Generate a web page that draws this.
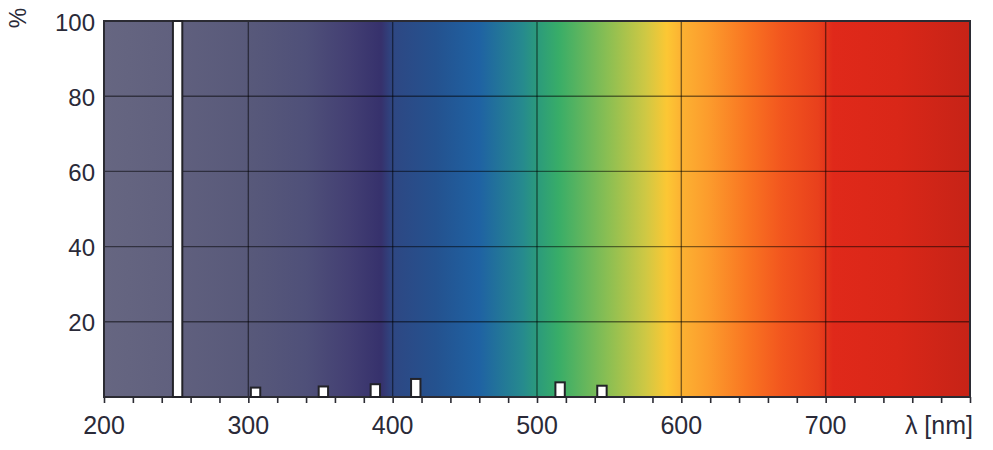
<!DOCTYPE html>
<html>
<head>
<meta charset="utf-8">
<script src="https://cdn.jsdelivr.net/npm/d3@7"></script>
<style>
  body { margin: 0; background: #fff; }
  text { font-family: 'Liberation Sans', Arial, sans-serif; fill: #2a2a38; }
</style>
</head>
<body>
<div class="chart"></div>
<script>
// emission lines (nm) and relative intensity (%)
const lineNm = [251, 305, 352, 388, 416, 516, 545];
const linePct = [100, 2.5, 2.8, 3.4, 4.8, 3.9, 3.0];
const lineWidthNm = 6.5;

// background spectrum
const spectrumNm = [200, 250, 300, 340, 370, 392, 400, 430, 460, 490, 500, 515, 550, 575, 590, 600, 620, 645, 670, 695, 705, 750, 800];
const spectrumColors = ['#666681', '#60607e', '#58597a', '#4f5079', '#433f73', '#36316c', '#2e4783', '#24528f', '#1f62a3', '#268a8e', '#2b9a7c', '#38ad68', '#8dbf52', '#cec844', '#fcc734', '#fcb232', '#fc9a2c', '#f97622', '#f2551e', '#e8401c', '#e0291a', '#d92718', '#c62317'];

const xTicks = [200, 300, 400, 500, 600, 700];
const yTicks = [20, 40, 60, 80, 100];

const width = 993;
const height = 450;
const margin = { top: 21, right: 23, bottom: 53, left: 104 };

const svg = d3
  .select('div.chart')
  .append('svg')
  .attr('width', width)
  .attr('height', height);

const x = d3
  .scaleLinear()
  .domain([200, 800])
  .range([margin.left, width - margin.right]);

const y = d3
  .scaleLinear()
  .domain([0, 100])
  .range([height - margin.bottom, margin.top]);

const grad = svg
  .append('defs')
  .append('linearGradient')
  .attr('id', 'spectrum')
  .attr('gradientUnits', 'userSpaceOnUse')
  .attr('x1', x(200))
  .attr('x2', x(800))
  .attr('y1', 0)
  .attr('y2', 0);

grad
  .selectAll('stop')
  .data(spectrumNm)
  .enter()
  .append('stop')
  .attr('offset', (d) => (d - 200) / 600)
  .attr('stop-color', (d, i) => spectrumColors[i]);

svg
  .append('rect')
  .attr('x', x(200))
  .attr('y', y(100))
  .attr('width', x(800) - x(200))
  .attr('height', y(0) - y(100))
  .attr('fill', 'url(#spectrum)');

// grid
svg
  .selectAll('.vgrid')
  .data(xTicks.slice(1))
  .enter()
  .append('line')
  .attr('x1', (d) => x(d))
  .attr('x2', (d) => x(d))
  .attr('y1', y(0))
  .attr('y2', y(100))
  .attr('stroke', 'rgba(0,0,0,0.5)')
  .attr('stroke-width', 1.4);

svg
  .selectAll('.hgrid')
  .data(yTicks.slice(0, -1))
  .enter()
  .append('line')
  .attr('x1', x(200))
  .attr('x2', x(800))
  .attr('y1', (d) => y(d))
  .attr('y2', (d) => y(d))
  .attr('stroke', 'rgba(0,0,0,0.5)')
  .attr('stroke-width', 1.4);

// frame
svg
  .append('rect')
  .attr('x', x(200))
  .attr('y', y(100))
  .attr('width', x(800) - x(200))
  .attr('height', y(0) - y(100))
  .attr('fill', 'none')
  .attr('stroke', '#2b2b33')
  .attr('stroke-width', 2);

// emission lines
const bw = x(200 + lineWidthNm) - x(200);
svg
  .selectAll('.bar')
  .data(lineNm)
  .enter()
  .append('rect')
  .attr('class', 'bar')
  .attr('x', (d) => x(d) - bw / 2)
  .attr('y', (d, i) => y(linePct[i]))
  .attr('width', bw)
  .attr('height', (d, i) => y(0) - y(linePct[i]))
  .attr('fill', '#fff')
  .attr('stroke', '#222228')
  .attr('stroke-width', 2);

// x axis
const xAxis = svg
  .append('g')
  .attr('transform', `translate(0,${y(0)})`)
  .call(
    d3
      .axisBottom(x)
      .tickValues(d3.range(200, 801, 20))
      .tickSize(6)
      .tickFormat('')
  );
xAxis.select('.domain').remove();
xAxis.selectAll('line').attr('stroke', '#2b2b33').attr('stroke-width', 1.6);

svg
  .selectAll('.xlabel')
  .data(xTicks)
  .enter()
  .append('text')
  .attr('x', (d) => x(d))
  .attr('y', 434)
  .attr('text-anchor', 'middle')
  .attr('font-size', 25)
  .text((d) => d);

svg
  .append('text')
  .attr('x', 973)
  .attr('y', 434)
  .attr('text-anchor', 'end')
  .attr('font-size', 25)
  .text('λ [nm]');

// y labels
svg
  .selectAll('.ylabel')
  .data(yTicks)
  .enter()
  .append('text')
  .attr('x', 95)
  .attr('y', (d) => y(d) + 1)
  .attr('dy', '0.36em')
  .attr('text-anchor', 'end')
  .attr('font-size', 24)
  .text((d) => d);

svg
  .append('text')
  .attr('transform', 'translate(26,18) rotate(-90)')
  .attr('text-anchor', 'middle')
  .attr('font-size', 23)
  .text('%');
</script>
</body>
</html>
